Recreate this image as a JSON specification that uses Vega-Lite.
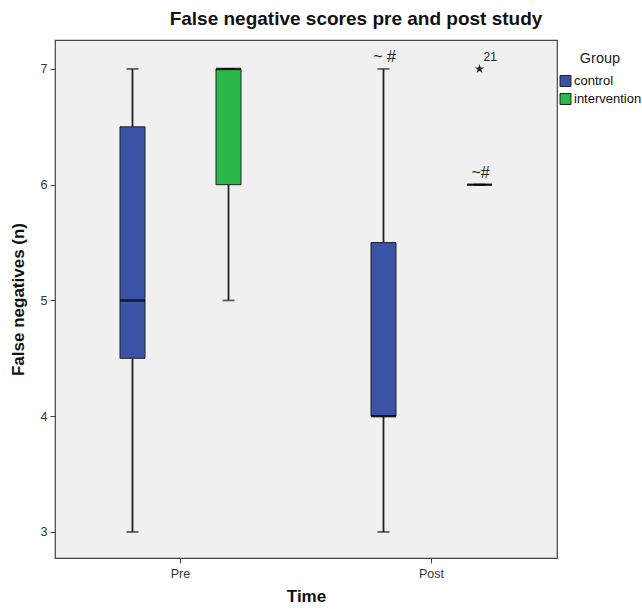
{
  "$schema": "https://vega.github.io/schema/vega-lite/v6.json",
  "width": 502,
  "height": 518,
  "autosize": "none",
  "padding": {"left": 55, "top": 40, "right": 85, "bottom": 53},
  "background": "white",
  "config": {
    "font": "Liberation Sans",
    "view": {"fill": "#F0F0F0", "stroke": "#444444", "strokeWidth": 1.2},
    "axis": {"grid": false, "domain": false, "labelFont": "Liberation Sans", "labelFontSize": 12.5, "labelColor": "#333333", "tickColor": "#444444", "tickSize": 5, "titleFont": "Liberation Sans", "titleFontSize": 17, "titleFontWeight": "bold", "titleColor": "#111111"}
  },
  "title": {"text": "False negative scores pre and post study", "fontSize": 19, "fontWeight": "bold", "font": "Liberation Sans", "color": "#111111", "anchor": "middle", "dx": 50, "offset": 11},
  "datasets": {
    "boxes": [
      {"Time": "Pre", "Group": "control", "min": 3, "q1": 4.5, "median": 5, "q3": 6.5, "max": 7},
      {"Time": "Pre", "Group": "intervention", "min": 5, "q1": 6, "median": 7, "q3": 7, "max": 7},
      {"Time": "Post", "Group": "control", "min": 3, "q1": 4, "median": 4, "q3": 5.5, "max": 7},
      {"Time": "Post", "Group": "intervention", "min": 6, "q1": 6, "median": 6, "q3": 6, "max": 6}
    ],
    "outliers": [
      {"Time": "Post", "Group": "intervention", "value": 7, "label": "21"}
    ],
    "notes": [
      {"Time": "Post", "Group": "control", "value": 7, "label": "~ #"},
      {"Time": "Post", "Group": "intervention", "value": 6, "label": "~#"}
    ]
  },
  "encoding": {
    "x": {"field": "Time", "type": "nominal", "sort": ["Pre", "Post"], "scale": {"paddingInner": 0, "paddingOuter": 0}, "axis": {"title": "Time", "labelAngle": 0, "labelPadding": 4, "titlePadding": 9}},
    "xOffset": {"field": "Group", "type": "nominal", "sort": ["control", "intervention"], "scale": {"paddingInner": 0.74, "paddingOuter": 0.677}}
  },
  "layer": [
    {
      "data": {"name": "boxes"},
      "mark": {"type": "rule", "color": "#222222", "strokeWidth": 1.8},
      "encoding": {
        "y": {"field": "min", "type": "quantitative", "scale": {"domain": [2.775, 7.25], "nice": false, "zero": false}, "axis": {"title": "False negatives (n)", "values": [3, 4, 5, 6, 7], "format": "d", "labelPadding": 3, "titlePadding": 13}},
        "y2": {"field": "max"}
      }
    },
    {
      "data": {"name": "boxes"},
      "mark": {"type": "tick", "orient": "horizontal", "color": "#222222", "size": 12, "thickness": 1.8},
      "encoding": {"y": {"field": "min", "type": "quantitative"}}
    },
    {
      "data": {"name": "boxes"},
      "mark": {"type": "tick", "orient": "horizontal", "color": "#222222", "size": 12, "thickness": 1.8},
      "encoding": {"y": {"field": "max", "type": "quantitative"}}
    },
    {
      "data": {"name": "boxes"},
      "mark": {"type": "bar", "size": 25, "stroke": "#222222", "strokeWidth": 1},
      "encoding": {
        "y": {"field": "q1", "type": "quantitative"},
        "y2": {"field": "q3"},
        "color": {"field": "Group", "type": "nominal", "scale": {"domain": ["control", "intervention"], "range": ["#3A53A6", "#2DB84B"]}, "legend": {"title": "Group", "orient": "none", "legendX": 504, "legendY": 12, "titleFontSize": 14.5, "titleFontWeight": "normal", "titleColor": "#222222", "titleAnchor": "middle", "titlePadding": 8, "labelFontSize": 13, "labelColor": "#111111", "symbolType": "square", "symbolSize": 120, "symbolStrokeColor": "#222222", "symbolStrokeWidth": 1, "symbolOpacity": 1, "rowPadding": 3, "labelOffset": 2}}
      }
    },
    {
      "data": {"name": "boxes"},
      "mark": {"type": "tick", "orient": "horizontal", "color": "#000000", "size": 25, "thickness": 2.5},
      "encoding": {"y": {"field": "median", "type": "quantitative"}}
    },
    {
      "data": {"name": "outliers"},
      "mark": {"type": "point", "shape": "M0,-1L0.2245,-0.309L0.9511,-0.309L0.3633,0.118L0.5878,0.809L0,0.382L-0.5878,0.809L-0.3633,0.118L-0.9511,-0.309L-0.2245,-0.309Z", "filled": true, "color": "#222222", "size": 95, "opacity": 1},
      "encoding": {"y": {"field": "value", "type": "quantitative"}}
    },
    {
      "data": {"name": "outliers"},
      "mark": {"type": "text", "font": "Liberation Sans", "fontSize": 12, "color": "#222222", "align": "left", "dx": 4, "dy": -12},
      "encoding": {"y": {"field": "value", "type": "quantitative"}, "text": {"field": "label"}}
    },
    {
      "data": {"name": "notes"},
      "mark": {"type": "text", "font": "Liberation Sans", "fontSize": 16, "color": "#222222", "align": "center", "dx": 1, "dy": -12},
      "encoding": {"y": {"field": "value", "type": "quantitative"}, "text": {"field": "label"}}
    }
  ]
}
